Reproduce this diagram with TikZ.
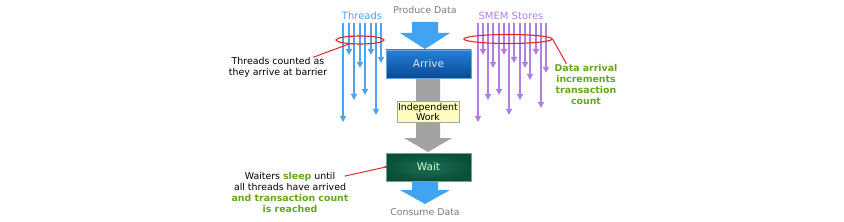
\documentclass[tikz,border=0pt]{standalone}
\usepackage{fontspec}
\setmainfont{DejaVu Sans}
\usetikzlibrary{arrows.meta,shapes.geometric}
\definecolor{thrblue}{HTML}{4FA2EC}
\definecolor{smempurple}{HTML}{B07FE2}
\definecolor{ringred}{HTML}{E02828}
\definecolor{notegreen}{HTML}{66A61E}
\definecolor{capgray}{HTML}{7C7C7C}
\definecolor{flowblue}{HTML}{42A4F0}
\definecolor{flowgray}{HTML}{A2A2A2}
\definecolor{arrivetop}{HTML}{2480DA}
\definecolor{arrivebot}{HTML}{0A4A92}
\definecolor{waittop}{HTML}{0F654B}
\definecolor{waitbot}{HTML}{0A5039}

\begin{document}
\begin{tikzpicture}[x=1pt,y=-1pt,
  thr/.style={thrblue,line width=1.3pt,-{Triangle[length=6pt,width=6pt]}},
  smem/.style={smempurple,line width=1.3pt,-{Triangle[length=6pt,width=6pt]}},
  ring/.style={ellipse,draw=ringred,line width=1.1pt,inner sep=0pt},
  pointer/.style={ringred,line width=1pt},
  note/.style={font=\fontsize{9.4}{11}\selectfont,align=center,inner sep=0pt},
  stagebox/.style={minimum width=85pt,minimum height=28pt,inner sep=0pt,
    font=\fontsize{10.5}{12}\selectfont}]
  \useasboundingbox (0,0) rectangle (844,222);
  % titles
  \node[text=capgray,font=\fontsize{9.4}{11}\selectfont] (produce) at (425,10) {Produce Data};
  \node[text=thrblue,font=\fontsize{10}{12}\selectfont] (thrtitle) at (362,16) {Threads};
  \node[text=smempurple,font=\fontsize{10}{12}\selectfont] (smemtitle) at (511,16) {SMEM Stores};
  % big flow arrows
  \fill[flowblue] (412,22) -- (438,22) -- (438,33) -- (450,33) -- (425,49)
    -- (400,33) -- (412,33) -- cycle;
  \fill[flowgray] (416,78) -- (440,78) -- (440,138) -- (452,138) -- (428,152)
    -- (404,138) -- (416,138) -- cycle;
  \fill[flowblue] (412,181) -- (438,181) -- (438,190) -- (450,190) -- (425,204)
    -- (400,190) -- (412,190) -- cycle;
  % stages
  \node[stagebox,top color=arrivetop,bottom color=arrivebot,
    draw=arrivetop!70!white,text=white!90!blue] (arrive) at (428.5,64) {Arrive};
  \node[draw=gray!70,fill=yellow!25,inner sep=1.5pt,
    font=\fontsize{9.4}{10.5}\selectfont,align=center] (indep) at (428,112) {Independent\\Work};
  \node[stagebox,inner color=waittop!94!white,outer color=waitbot,
    draw=waittop!60!white,text=white!78!green] (wait) at (428.5,167) {Wait};
  \node[text=capgray,font=\fontsize{9.4}{11}\selectfont] (consume) at (425,212) {Consume Data};
  % thread arrivals
  \foreach \x/\e in {343/122,349/55,354/100,360/68,365/95,371/55,376/115,381/63}
    \draw[thr] (\x,23) -- (\x,\e);
  % smem stores
  \foreach \x/\e in {478/122,483/55,488/100,493/68,499/95,504/55,509/115,514/63,
                     520/100,525/68,530/80,536/55,541/108,546/73}
    \draw[smem] (\x,23) -- (\x,\e);
  % rings and notes
  \node[ring,minimum width=48pt,minimum height=8pt] (thrring) at (360,40) {};
  \node[ring,minimum width=88pt,minimum height=9pt] (smemring) at (508,39) {};
  \node[note] (thrnote) at (278,67.5) {Threads counted as\\they arrive at barrier};
  \node[note,text=notegreen,font=\fontsize{9.4}{11}\selectfont\bfseries] (smemnote) at (586,84)
    {Data arrival\\increments\\transaction\\count};
  \node[note] (waitnote) at (290,192.5)
    {Waiters \textcolor{notegreen}{\bfseries sleep} until\\all threads have arrived\\
     \textcolor{notegreen}{\bfseries and transaction count}\\
     \textcolor{notegreen}{\bfseries is reached}};
  \draw[pointer] (thrring.200) -- ([xshift=-14pt]thrnote.north east);
  \draw[pointer] (smemring.east) -- ([xshift=12pt]smemnote.north west);
  \draw[pointer] (wait.west) -- ([xshift=-4pt,yshift=-4pt]waitnote.north east);
  \fill[ringred] (wait.west) circle (1.5pt);
\end{tikzpicture}
\end{document}
